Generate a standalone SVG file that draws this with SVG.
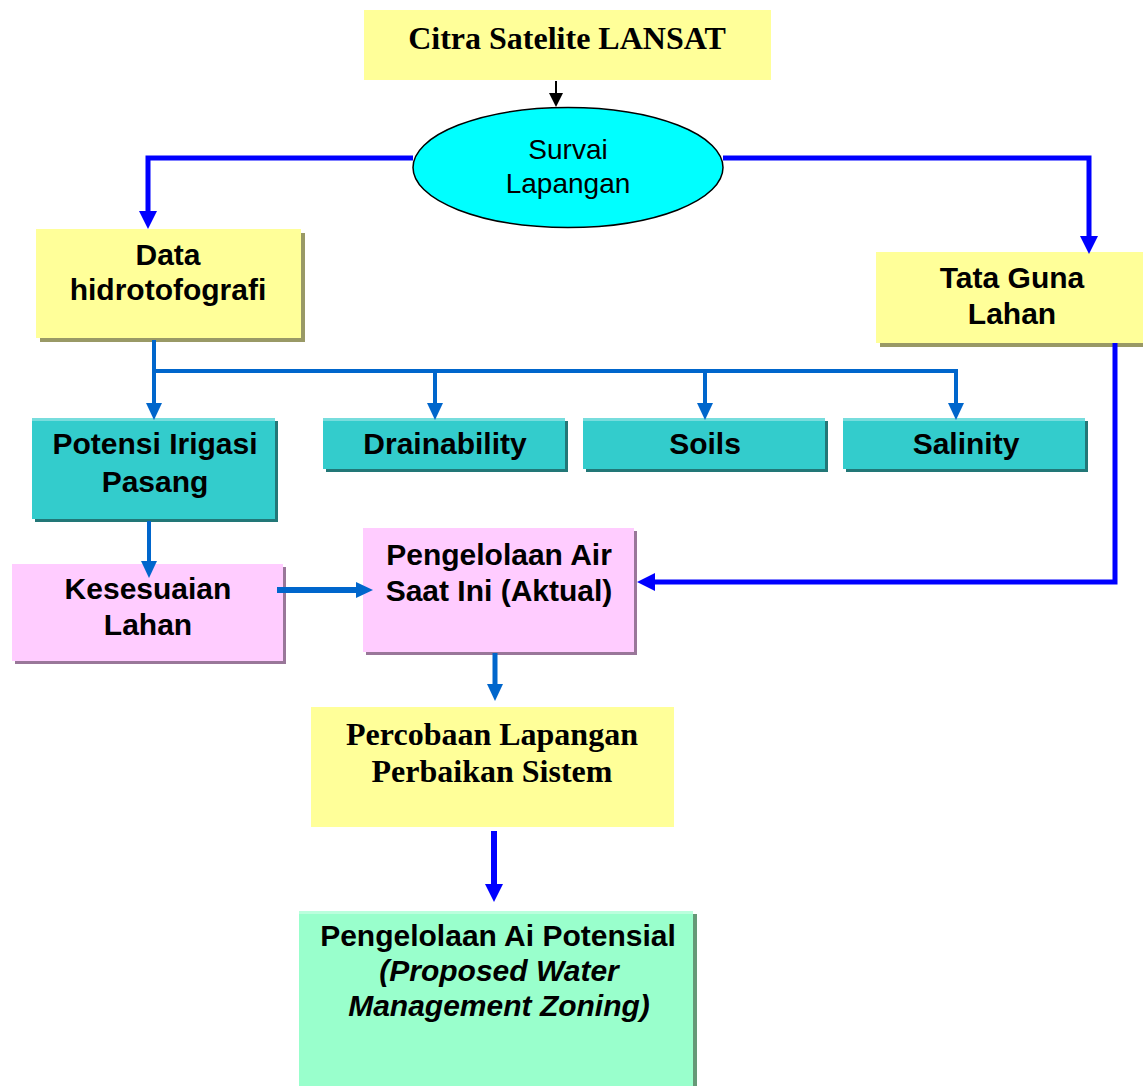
<svg xmlns="http://www.w3.org/2000/svg" width="1143" height="1086" viewBox="0 0 1143 1086">
<style>
.sans{font-family:"Liberation Sans",Arial,sans-serif;font-weight:bold;font-size:30px;fill:#000;text-anchor:middle}
.reg{font-family:"Liberation Sans",Arial,sans-serif;font-size:28px;fill:#000;text-anchor:middle}
.serif{font-family:"Liberation Serif","Times New Roman",serif;font-weight:bold;font-size:32px;fill:#000;text-anchor:middle}
.yellow{fill:#FFFF99}
.teal{fill:#33CCCC}
.pink{fill:#FFCCFF}
.green{fill:#99FFCC}
.shY{fill:#999966}
.shT{fill:#227777}
.shP{fill:#997799}
.shG{fill:#669977}
.blue{fill:none;stroke:#0000FF;stroke-width:5}
.mid{fill:none;stroke:#0066CC;stroke-width:4}
</style>
<defs>
<marker id="aBlue" viewBox="0 0 18 18" refX="0" refY="9" markerWidth="18" markerHeight="18" markerUnits="userSpaceOnUse" orient="auto"><path d="M0,0 L18,9 L0,18 z" fill="#0000FF"/></marker>
<marker id="aMid" viewBox="0 0 17 16" refX="0" refY="8" markerWidth="17" markerHeight="16" markerUnits="userSpaceOnUse" orient="auto"><path d="M0,0 L17,8 L0,16 z" fill="#0066CC"/></marker>
<marker id="aBlack" viewBox="0 0 14 14" refX="0" refY="7" markerWidth="14" markerHeight="14" markerUnits="userSpaceOnUse" orient="auto"><path d="M0,0 L14,7 L0,14 z" fill="#000"/></marker>
</defs>

<g id="citra">
<rect class="yellow" x="364" y="10" width="407" height="70"/>
<text class="serif" x="567" y="49">Citra Satelite LANSAT</text>
</g>

<g id="survai">
<ellipse cx="568" cy="167.5" rx="155" ry="60" fill="#00FFFF" stroke="#000" stroke-width="1.5"/>
<text class="reg" x="568" y="159">Survai</text>
<text class="reg" x="568" y="193">Lapangan</text>
</g>

<g id="data">
<rect class="shY" x="40" y="233" width="265" height="109"/>
<rect class="yellow" x="36" y="229" width="265" height="109"/>
<text class="sans" x="168" y="265">Data</text>
<text class="sans" x="168" y="300">hidrotofografi</text>
</g>

<g id="tata">
<rect class="shY" x="880" y="256" width="263" height="91"/>
<rect class="yellow" x="876" y="252" width="267" height="91"/>
<text class="sans" x="1012" y="288">Tata Guna</text>
<text class="sans" x="1012" y="324">Lahan</text>
</g>

<g id="potensi">
<rect class="shT" x="35" y="421" width="243" height="101"/>
<rect class="teal" x="32" y="418" width="243" height="101"/>
<rect x="32" y="418" width="243" height="3" fill="#77DDDD"/>
<text class="sans" x="155" y="454">Potensi Irigasi</text>
<text class="sans" x="155" y="492">Pasang</text>
</g>

<g id="drainability">
<rect class="shT" x="326" y="421" width="242" height="51"/>
<rect class="teal" x="323" y="418" width="242" height="51"/>
<rect x="323" y="418" width="242" height="3" fill="#77DDDD"/>
<text class="sans" x="445" y="454">Drainability</text>
</g>

<g id="soils">
<rect class="shT" x="586" y="421" width="242" height="51"/>
<rect class="teal" x="583" y="418" width="242" height="51"/>
<rect x="583" y="418" width="242" height="3" fill="#77DDDD"/>
<text class="sans" x="705" y="454">Soils</text>
</g>

<g id="salinity">
<rect class="shT" x="846" y="421" width="242" height="51"/>
<rect class="teal" x="843" y="418" width="242" height="51"/>
<rect x="843" y="418" width="242" height="3" fill="#77DDDD"/>
<text class="sans" x="966" y="454">Salinity</text>
</g>

<g id="kesesuaian">
<rect class="shP" x="15" y="567" width="271" height="97"/>
<rect class="pink" x="12" y="564" width="271" height="97"/>
<text class="sans" x="148" y="599">Kesesuaian</text>
<text class="sans" x="148" y="635">Lahan</text>
</g>

<g id="pengelolaan-air">
<rect class="shP" x="366" y="531" width="271" height="124"/>
<rect class="pink" x="363" y="528" width="271" height="124"/>
<text class="sans" x="499" y="565">Pengelolaan Air</text>
<text class="sans" x="499" y="601">Saat Ini (Aktual)</text>
</g>

<g id="percobaan">
<rect class="yellow" x="311" y="707" width="363" height="120"/>
<text class="serif" x="492" y="745">Percobaan Lapangan</text>
<text class="serif" x="492" y="782">Perbaikan Sistem</text>
</g>

<g id="potensial">
<rect class="shG" x="303" y="914" width="394" height="172"/>
<rect class="green" x="299" y="911" width="394" height="175"/>
<rect x="299" y="911" width="394" height="3" fill="#BBFFDD"/>
<text class="sans" x="498" y="946">Pengelolaan Ai Potensial</text>
<text class="sans" x="499" y="981" font-style="italic">(Proposed Water</text>
<text class="sans" x="499" y="1016" font-style="italic">Management Zoning)</text>
</g>

<g id="connectors">
<path d="M556,81 V93" fill="none" stroke="#000" stroke-width="2" marker-end="url(#aBlack)"/>
<path class="blue" d="M413,158 H148 V211" marker-end="url(#aBlue)"/>
<path class="blue" d="M723,158 H1089 V236" marker-end="url(#aBlue)"/>
<path class="mid" d="M154,340 V403" marker-end="url(#aMid)"/>
<path class="mid" d="M154,371 H956 V403" marker-end="url(#aMid)"/>
<path class="mid" d="M435,371 V403" marker-end="url(#aMid)"/>
<path class="mid" d="M705,371 V403" marker-end="url(#aMid)"/>
<path class="mid" d="M149,521 V561" marker-end="url(#aMid)"/>
<path class="mid" d="M277,590 H356" style="stroke-width:6" marker-end="url(#aMid)"/>
<path class="blue" d="M1115,343 V582 H655" marker-end="url(#aBlue)"/>
<path class="mid" d="M495,653 V684" style="stroke-width:5" marker-end="url(#aMid)"/>
<path class="blue" d="M494,831 V884" style="stroke-width:6" marker-end="url(#aBlue)"/>
</g>
</svg>
